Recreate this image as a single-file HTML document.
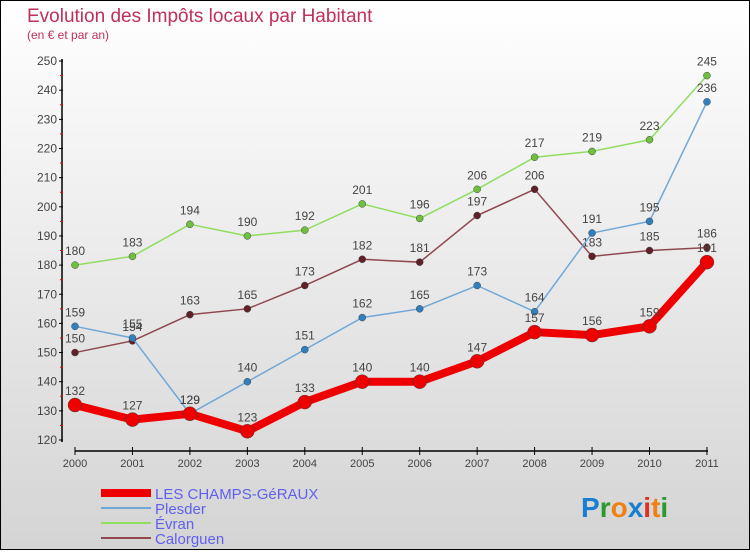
<!DOCTYPE html>
<html><head><meta charset="utf-8"><style>
body{margin:0;width:750px;height:550px;overflow:hidden;font-family:"Liberation Sans",sans-serif}
#wrap{position:relative;width:748px;height:548px;border:1px solid #000;background:linear-gradient(#fff,#d4d4d4)}
</style></head><body>
<div id="wrap">
<svg id="chart" width="748" height="548">
<text x="26" y="21" font-size="19" fill="#c0305a">Evolution des Impôts locaux par Habitant</text>
<text x="26" y="38" font-size="12" fill="#c0305a">(en € et par an)</text>
<g id="axes"></g><g id="series"></g><g id="legend"></g>
<text x="580" y="516" font-size="28" font-weight="bold"><tspan fill="#1a7fd0">P</tspan><tspan fill="#2a9a30">r</tspan><tspan fill="#f08010">o</tspan><tspan fill="#1a7fd0">x</tspan><tspan fill="#e03020">i</tspan><tspan fill="#f08010">t</tspan><tspan fill="#2a9a30">i</tspan></text>
</svg></div>
<script>
const years=[2000,2001,2002,2003,2004,2005,2006,2007,2008,2009,2010,2011];
const yTicks=[120,130,140,150,160,170,180,190,200,210,220,230,240,250];
const champs=[132,127,129,123,133,140,140,147,157,156,159,181];
const plesder=[159,155,129,140,151,162,165,173,164,191,195,236];
const evran=[180,183,194,190,192,201,196,206,217,219,223,245];
const calorguen=[150,154,163,165,173,182,181,197,206,183,185,186];
const NS="http://www.w3.org/2000/svg";
const xs=i=>74+i*57.45;
const ys=v=>439-(v-120)*2.915;
function mk(t,a,p){const e=document.createElementNS(NS,t);for(const k in a)e.setAttribute(k,a[k]);p.appendChild(e);return e;}
const ax=document.getElementById('axes');
let l=mk('line',{x1:61,y1:58,x2:61,y2:441,stroke:'#000','stroke-width':1.5},ax);

l=mk('line',{x1:74,y1:450,x2:707,y2:450,stroke:'#000','stroke-width':1.5},ax);

yTicks.forEach(v=>{mk('line',{x1:58,y1:ys(v),x2:62,y2:ys(v),stroke:'#000'},ax);
 if(v<250)mk('line',{x1:59,y1:ys(v+5),x2:62,y2:ys(v+5),stroke:'#e00'},ax);
 const t=mk('text',{x:56,y:ys(v)+4,'font-size':12,fill:'#444','text-anchor':'end'},ax);t.textContent=v;
 });
years.forEach((y,i)=>{mk('line',{x1:xs(i),y1:446,x2:xs(i),y2:454,stroke:'#000'},ax);
 const t=mk('text',{x:xs(i),y:466,'font-size':11,fill:'#444','text-anchor':'middle'},ax);t.textContent=y;
 });
const sg=document.getElementById('series');
const defs=[['evran',evran,'#90dd60',1.5,3.5,'#70c040'],['calorguen',calorguen,'#904850',1.5,3.5,'#602028'],['plesder',plesder,'#70a8d8',1.5,3.5,'#3080c0'],['les-champs-geraux',champs,'#ee0000',8,7,'#ee0000']];
defs.forEach(([n,d,c,w,r,pc])=>{
 const p=mk('polyline',{points:d.map((v,i)=>xs(i)+','+ys(v)).join(' '),fill:'none',stroke:c,'stroke-width':w},sg);
 
 d.forEach((v,i)=>{const ci=mk('circle',{cx:xs(i),cy:ys(v),r:r,fill:pc,stroke:'#444','stroke-width':0.5},sg);
  
  const t=mk('text',{x:xs(i),y:ys(v)-10,'font-size':12,fill:'#444','text-anchor':'middle'},sg);t.textContent=v;
  });
});
const lg=document.getElementById('legend');
[['LES CHAMPS-GéRAUX','#ee0000',8],['Plesder','#70a8d8',2],['Évran','#90dd60',2],['Calorguen','#904850',2]].forEach(([n,c,w],i)=>{
 const y=492+i*15;
 const li=mk('line',{x1:100,y1:y,x2:150,y2:y,stroke:c,'stroke-width':w},lg);
 
 const t=mk('text',{x:154,y:y+6,'font-size':15,fill:'#6060ee'},lg);t.textContent=n;
 
});
</script></body></html>
